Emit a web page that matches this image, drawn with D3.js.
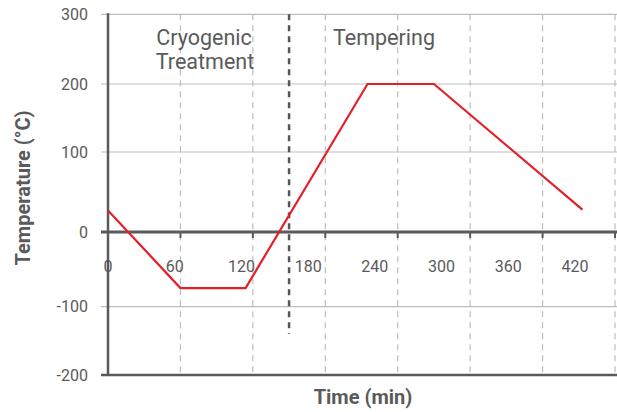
<!DOCTYPE html>
<html>
<head>
<meta charset="utf-8">
<script src="https://cdn.jsdelivr.net/npm/d3@7"></script>
<style>
  body { margin: 0; background: #fff; }
  svg { display: block; font-family: Roboto, sans-serif; }
</style>
</head>
<body>
<svg id="chart" width="617" height="412"></svg>
<script>
// process profile
const timeMin = [0, 60, 114, 215, 270, 393]
const tempC = [27, -75, -75, 200, 200, 28]

const xTicks = [0, 60, 120, 180, 240, 300, 360, 420]
const yTicks = [-200, -100, 0, 100, 200, 300]

const stageSplit = 150
const stageSplitRange = [-140, 300]

const ink = '#5a5a5a'

const svg = d3.select('#chart')

const x = d3.scaleLinear()
  .domain([0, 420])
  .range([108, 615])

// tick labels sit on a tighter spacing than the grid in the original
const xLabel = d3.scaleLinear()
  .domain([0, 420])
  .range([108, 575])

// value axis is not evenly spaced in the original, so piecewise
const y = d3.scaleLinear()
  .domain(yTicks)
  .range([375, 306.7, 232, 152, 84, 14.3])

// horizontal grid
svg.append('g')
  .selectAll('line')
  .data(yTicks.filter(d => d !== 0 && d !== -200))
  .enter().append('line')
  .attr('x1', 101)
  .attr('x2', 617)
  .attr('y1', d => y(d))
  .attr('y2', d => y(d))
  .attr('stroke', '#bdbdbd')
  .attr('stroke-width', 1.2)

// vertical dashed grid
svg.append('g')
  .selectAll('line')
  .data(xTicks.slice(1))
  .enter().append('line')
  .attr('x1', d => x(d))
  .attr('x2', d => x(d))
  .attr('y1', y(300))
  .attr('y2', y(-200))
  .attr('stroke', '#bdbdbd')
  .attr('stroke-width', 1.2)
  .attr('stroke-dasharray', '6,5')

// stage divider
svg.append('line')
  .attr('x1', x(stageSplit))
  .attr('x2', x(stageSplit))
  .attr('y1', y(stageSplitRange[1]))
  .attr('y2', y(stageSplitRange[0]))
  .attr('stroke', '#555')
  .attr('stroke-width', 2.5)
  .attr('stroke-dasharray', '6,5')

// axes
svg.append('line')
  .attr('x1', 101).attr('x2', 617)
  .attr('y1', y(0)).attr('y2', y(0))
  .attr('stroke', ink).attr('stroke-width', 3)
svg.append('line')
  .attr('x1', 101).attr('x2', 617)
  .attr('y1', y(-200)).attr('y2', y(-200))
  .attr('stroke', ink).attr('stroke-width', 2.5)
svg.append('line')
  .attr('x1', x(0)).attr('x2', x(0))
  .attr('y1', y(300) - 1).attr('y2', y(-200) + 1)
  .attr('stroke', ink).attr('stroke-width', 2.5)

svg.append('g')
  .selectAll('line')
  .data(xTicks.slice(1))
  .enter().append('line')
  .attr('x1', d => x(d))
  .attr('x2', d => x(d))
  .attr('y1', y(0))
  .attr('y2', y(0) + 6)
  .attr('stroke', ink)
  .attr('stroke-width', 2)

// tick labels
svg.append('g')
  .attr('fill', ink)
  .attr('font-size', 16)
  .attr('text-anchor', 'end')
  .selectAll('text')
  .data(yTicks)
  .enter().append('text')
  .text(d => d)
  .attr('x', 88)
  .attr('y', d => y(d))
  .attr('dy', '0.35em')

svg.append('g')
  .attr('fill', ink)
  .attr('font-size', 16)
  .attr('text-anchor', 'middle')
  .selectAll('text')
  .data(xTicks)
  .enter().append('text')
  .text(d => d)
  .attr('x', d => xLabel(d))
  .attr('y', y(0) + 34)
  .attr('dy', '0.35em')

// axis titles
svg.append('text')
  .text('Time (min)')
  .attr('x', 363)
  .attr('y', 404)
  .attr('text-anchor', 'middle')
  .attr('font-size', 20)
  .attr('font-weight', 'bold')
  .attr('fill', ink)
svg.append('text')
  .text('Temperature (°C)')
  .attr('transform', 'translate(30,188) rotate(-90)')
  .attr('text-anchor', 'middle')
  .attr('font-size', 20)
  .attr('font-weight', 'bold')
  .attr('fill', ink)

// stage names
svg.append('text')
  .text('Cryogenic')
  .attr('x', 204)
  .attr('y', 45)
  .attr('text-anchor', 'middle')
  .attr('font-size', 21.5)
  .attr('fill', ink)
svg.append('text')
  .text('Treatment')
  .attr('x', 205)
  .attr('y', 69)
  .attr('text-anchor', 'middle')
  .attr('font-size', 21.5)
  .attr('fill', ink)

svg.append('text')
  .text('Tempering')
  .attr('x', 333)
  .attr('y', 45)
  .attr('font-size', 21.5)
  .attr('fill', ink)

// profile line
const line = d3.line()
  .x((d, i) => x(timeMin[i]))
  .y(d => y(d))

svg.append('path')
  .datum(tempC)
  .attr('d', line)
  .attr('fill', 'none')
  .attr('stroke', '#e3202a')
  .attr('stroke-width', 2.2)
</script>
</body>
</html>
